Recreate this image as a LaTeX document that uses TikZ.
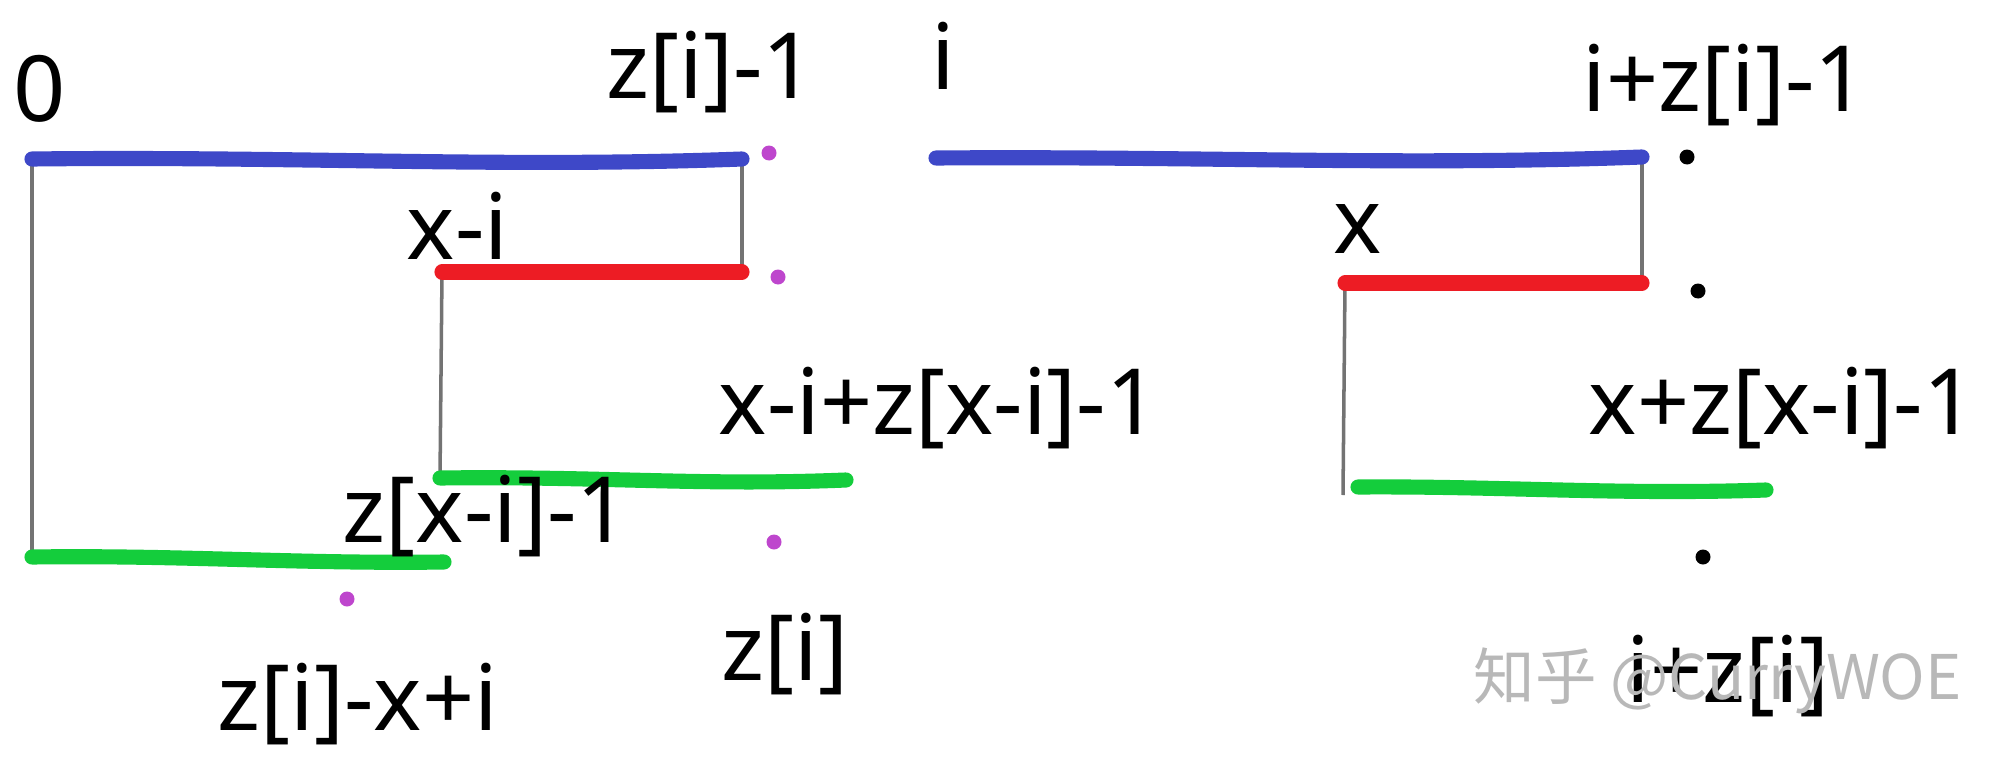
\documentclass[tikz,border=0pt]{standalone}
\usepackage{fontspec}
\setmainfont{Noto Sans}
\newfontfamily\cjkfont{Noto Sans CJK SC}
\usetikzlibrary{positioning,calc}
\definecolor{zBlue}{RGB}{62,72,200}
\definecolor{zRed}{RGB}{237,28,36}
\definecolor{zGreen}{RGB}{20,205,60}
\definecolor{zPink}{RGB}{190,70,205}
\definecolor{zGuide}{RGB}{115,115,115}

\begin{document}
\begin{tikzpicture}
\tikzset{myFont/.style={font=\fontsize{26}{31}\selectfont}}
\tikzset{myLabel/.style={myFont,anchor=base west,inner sep=0pt}}
\tikzset{myStroke/.style={line width=4.3pt,line cap=round}}
\tikzset{myGuide/.style={draw=zGuide,line width=1pt}}
\tikzset{myDot/.style={circle,fill,inner sep=0pt,minimum size=0.15cm}}

\useasboundingbox (0,0) rectangle (20,-7.65);

% ends of the strokes
\coordinate (b1s) at (0.32,-1.59);
\coordinate (b1e) at (7.42,-1.59);
\coordinate (b2s) at (9.36,-1.58);
\coordinate (b2e) at (16.42,-1.57);
\coordinate (r1s) at (4.42,-2.72);
\coordinate (r1e) at (7.42,-2.72);
\coordinate (r2s) at (13.45,-2.83);
\coordinate (r2e) at (16.42,-2.83);
\coordinate (g1s) at (4.40,-4.78);
\coordinate (g1e) at (8.46,-4.80);
\coordinate (g2s) at (0.32,-5.57);
\coordinate (g2e) at (4.44,-5.62);
\coordinate (g3s) at (13.58,-4.87);
\coordinate (g3e) at (17.66,-4.90);

% guides
\draw[myGuide] (b1s) -- (g2s);
\draw[myGuide] (b1e) -- (r1e);
\draw[myGuide] (r1s) -- (g1s);
\draw[myGuide] (b2e) -- (r2e);
\draw[myGuide] (r2s) -- (13.43,-4.95);

% strokes
\draw[myStroke,zBlue] (b1s) .. controls (3,-1.56) and (5,-1.68) .. (b1e);
\draw[myStroke,zBlue] (b2s) .. controls (12,-1.56) and (14,-1.66) .. (b2e);
\draw[myStroke,zRed] (r1s) -- (r1e);
\draw[myStroke,zRed] (r2s) -- (r2e);
\draw[myStroke,zGreen] (g1s) .. controls (6,-4.76) and (7,-4.86) .. (g1e);
\draw[myStroke,zGreen] (g2s) .. controls (1.8,-5.55) and (3,-5.64) .. (g2e);
\draw[myStroke,zGreen] (g3s) .. controls (15,-4.86) and (16.2,-4.95) .. (g3e);

% dots
\node[myDot,zPink] (p1) at (7.69,-1.53) {};
\node[myDot,zPink] (p2) at (7.78,-2.77) {};
\node[myDot,zPink] (p3) at (7.74,-5.42) {};
\node[myDot,zPink] (p4) at (3.47,-5.99) {};
\node[myDot,black] (k1) at (16.87,-1.57) {};
\node[myDot,black] (k2) at (16.98,-2.91) {};
\node[myDot,black] (k3) at (17.03,-5.57) {};

% labels
\node[myLabel] (zero) at (0.13,-1.21) {0};
\node[myLabel] (zim1) at (6.06,-0.99) {z[i]-1};
\node[myLabel] (iLab) at (9.31,-0.89) {i};
\node[myLabel] (izim1) at (15.82,-1.12) {i+z[i]-1};
\node[myLabel] (xmi) at (4.06,-2.59) {x-i};
\node[myLabel] (xLab) at (13.33,-2.53) {x};
\node[myLabel] (xmizxm1) at (7.18,-4.34) {x-i+z[x-i]-1};
\node[myLabel] (xzxm1) at (15.88,-4.34) {x+z[x-i]-1};
\node[myLabel] (zxm1) at (3.42,-5.42) {z[x-i]-1};
\node[myLabel] (ziLab) at (7.21,-6.80) {z[i]};
\node[myLabel] (zimxpi) at (2.17,-7.30) {z[i]-x+i};
\node[myLabel] (izi) at (16.26,-7.02) {i+z[i]};

% watermark
\node[myLabel,font=\cjkfont\fontsize{17.5}{21}\selectfont,text=black!28] (mark) at (14.73,-6.99) {知乎 @CurryWOE};
\end{tikzpicture}
\end{document}
